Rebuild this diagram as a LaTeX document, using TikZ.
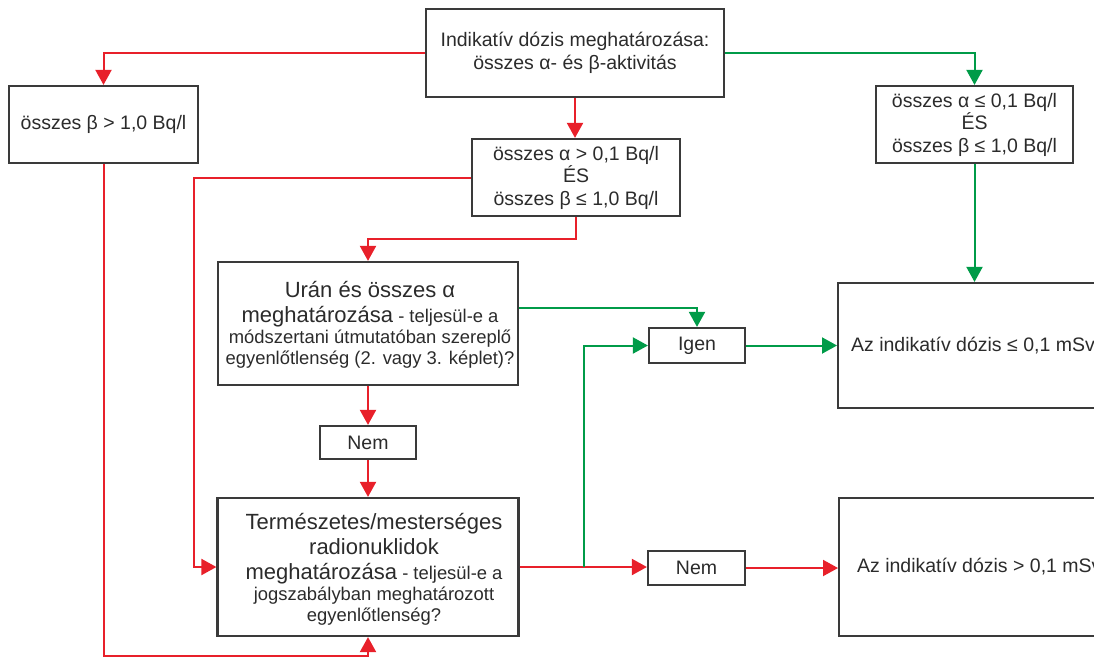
\documentclass[tikz,border=0pt]{standalone}
\usepackage{fontspec}
\setmainfont{Liberation Sans}
\usetikzlibrary{arrows.meta}
\definecolor{cred}{HTML}{E8202A}
\definecolor{cgreen}{HTML}{009B48}
\definecolor{cbox}{HTML}{3A3A3A}
\definecolor{ctext}{HTML}{2B2B2B}
\newcommand{\bigt}[1]{{\fontsize{22}{21}\selectfont #1}}
\begin{document}
\begin{tikzpicture}[x=1pt,y=-1pt,
  box/.style={draw=cbox, line width=2.2pt, rectangle, inner sep=0pt, align=center, text=ctext, font=\fontsize{19.5}{22.5}\selectfont},
  txt/.style={inner sep=0pt, align=center, text=ctext, font=\fontsize{18.4}{21}\selectfont},
  rline/.style={draw=cred, line width=2pt, -{Triangle[length=15pt,width=16pt]}},
  gline/.style={draw=cgreen, line width=2pt, -{Triangle[length=15pt,width=16pt]}}]
\useasboundingbox (0,0) rectangle (1094,657);
\clip (0,0) rectangle (1094,657);

\node[box, minimum width=298, minimum height=88] (top) at (575,53) {Indikatív dózis meghatározása:\\összes α- és β-aktivitás};
\node[box, minimum width=188.5, minimum height=77] (leftb) at (103.5,124.5) {összes β > 1,0 Bq/l};
\node[box, minimum width=208, minimum height=77] (mid) at (576,177.5) {összes α > 0,1 Bq/l\\ÉS\\összes β ≤ 1,0 Bq/l};
\node[box, minimum width=197, minimum height=77] (right) at (974.5,124.5) {összes α ≤ 0,1 Bq/l\\ÉS\\összes β ≤ 1,0 Bq/l};

\node[box, minimum width=300.5, minimum height=123] (uran) at (368,323.5) {};
\node[txt] (urantxt) at (370,325) {\bigt{Urán és összes α}\\[4pt]\bigt{meghatározása} - teljesül-e a\\módszertani útmutatóban szereplő\\egyenlőtlenség (2. vagy 3. képlet)?};

\node[box, minimum width=96, minimum height=33] (nem1) at (368,442.5) {Nem};

\node[box, minimum width=301, minimum height=138] (term) at (368,567) {};
\node[txt] (termtxt) at (374,569) {\bigt{Természetes/mesterséges}\\[4pt]\bigt{radionuklidok}\\[4pt]\bigt{meghatározása} - teljesül-e a\\jogszabályban meghatározott\\egyenlőtlenség?};

\node[box, minimum width=96, minimum height=35] (igen) at (697,345.5) {Igen};
\node[box, minimum width=97, minimum height=34] (nem2) at (696.5,568) {Nem};

\node[box, anchor=west, align=flush left, inner xsep=13pt, text width=274pt, minimum height=125] (big1) at (837,345.5) {Az indikatív dózis ≤ 0,1 mSv};
\node[box, anchor=west, align=flush left, inner xsep=18pt, text width=264pt, minimum height=138] (big2) at (838,567) {Az indikatív dózis > 0,1 mSv};

\coordinate (br) at (584,567);
\coordinate (bl) at (103.5,655.5);

% connectors
\draw[rline] (top.west) -| (leftb.north);
\draw[rline] (top.south) -- (top.south |- mid.north);
\draw[gline] (top.east) -| (right.north);
\draw[rline] (mid.west) -- ++(-277,0) |- (term.west);
\draw[rline] (mid.south) -- ++(0,22) -| (uran.north);
\draw[gline] ([yshift=15.5pt]uran.east) -| (igen.north);
\draw[rline] (uran.south) -- (nem1.north);
\draw[rline] (nem1.south) -- (term.north);
\draw[rline] (term.east) -- (term.east -| nem2.west);
\draw[gline] (br) |- (igen.west);
\draw[gline] (igen.east) -- (igen.east -| big1.west);
\draw[rline] (nem2.east) -- (nem2.east -| big2.west);
\draw[gline] (right.south) -- (right.south |- big1.north);
\draw[rline] (leftb.south) -- (bl) -| (term.south);
\end{tikzpicture}
\end{document}
